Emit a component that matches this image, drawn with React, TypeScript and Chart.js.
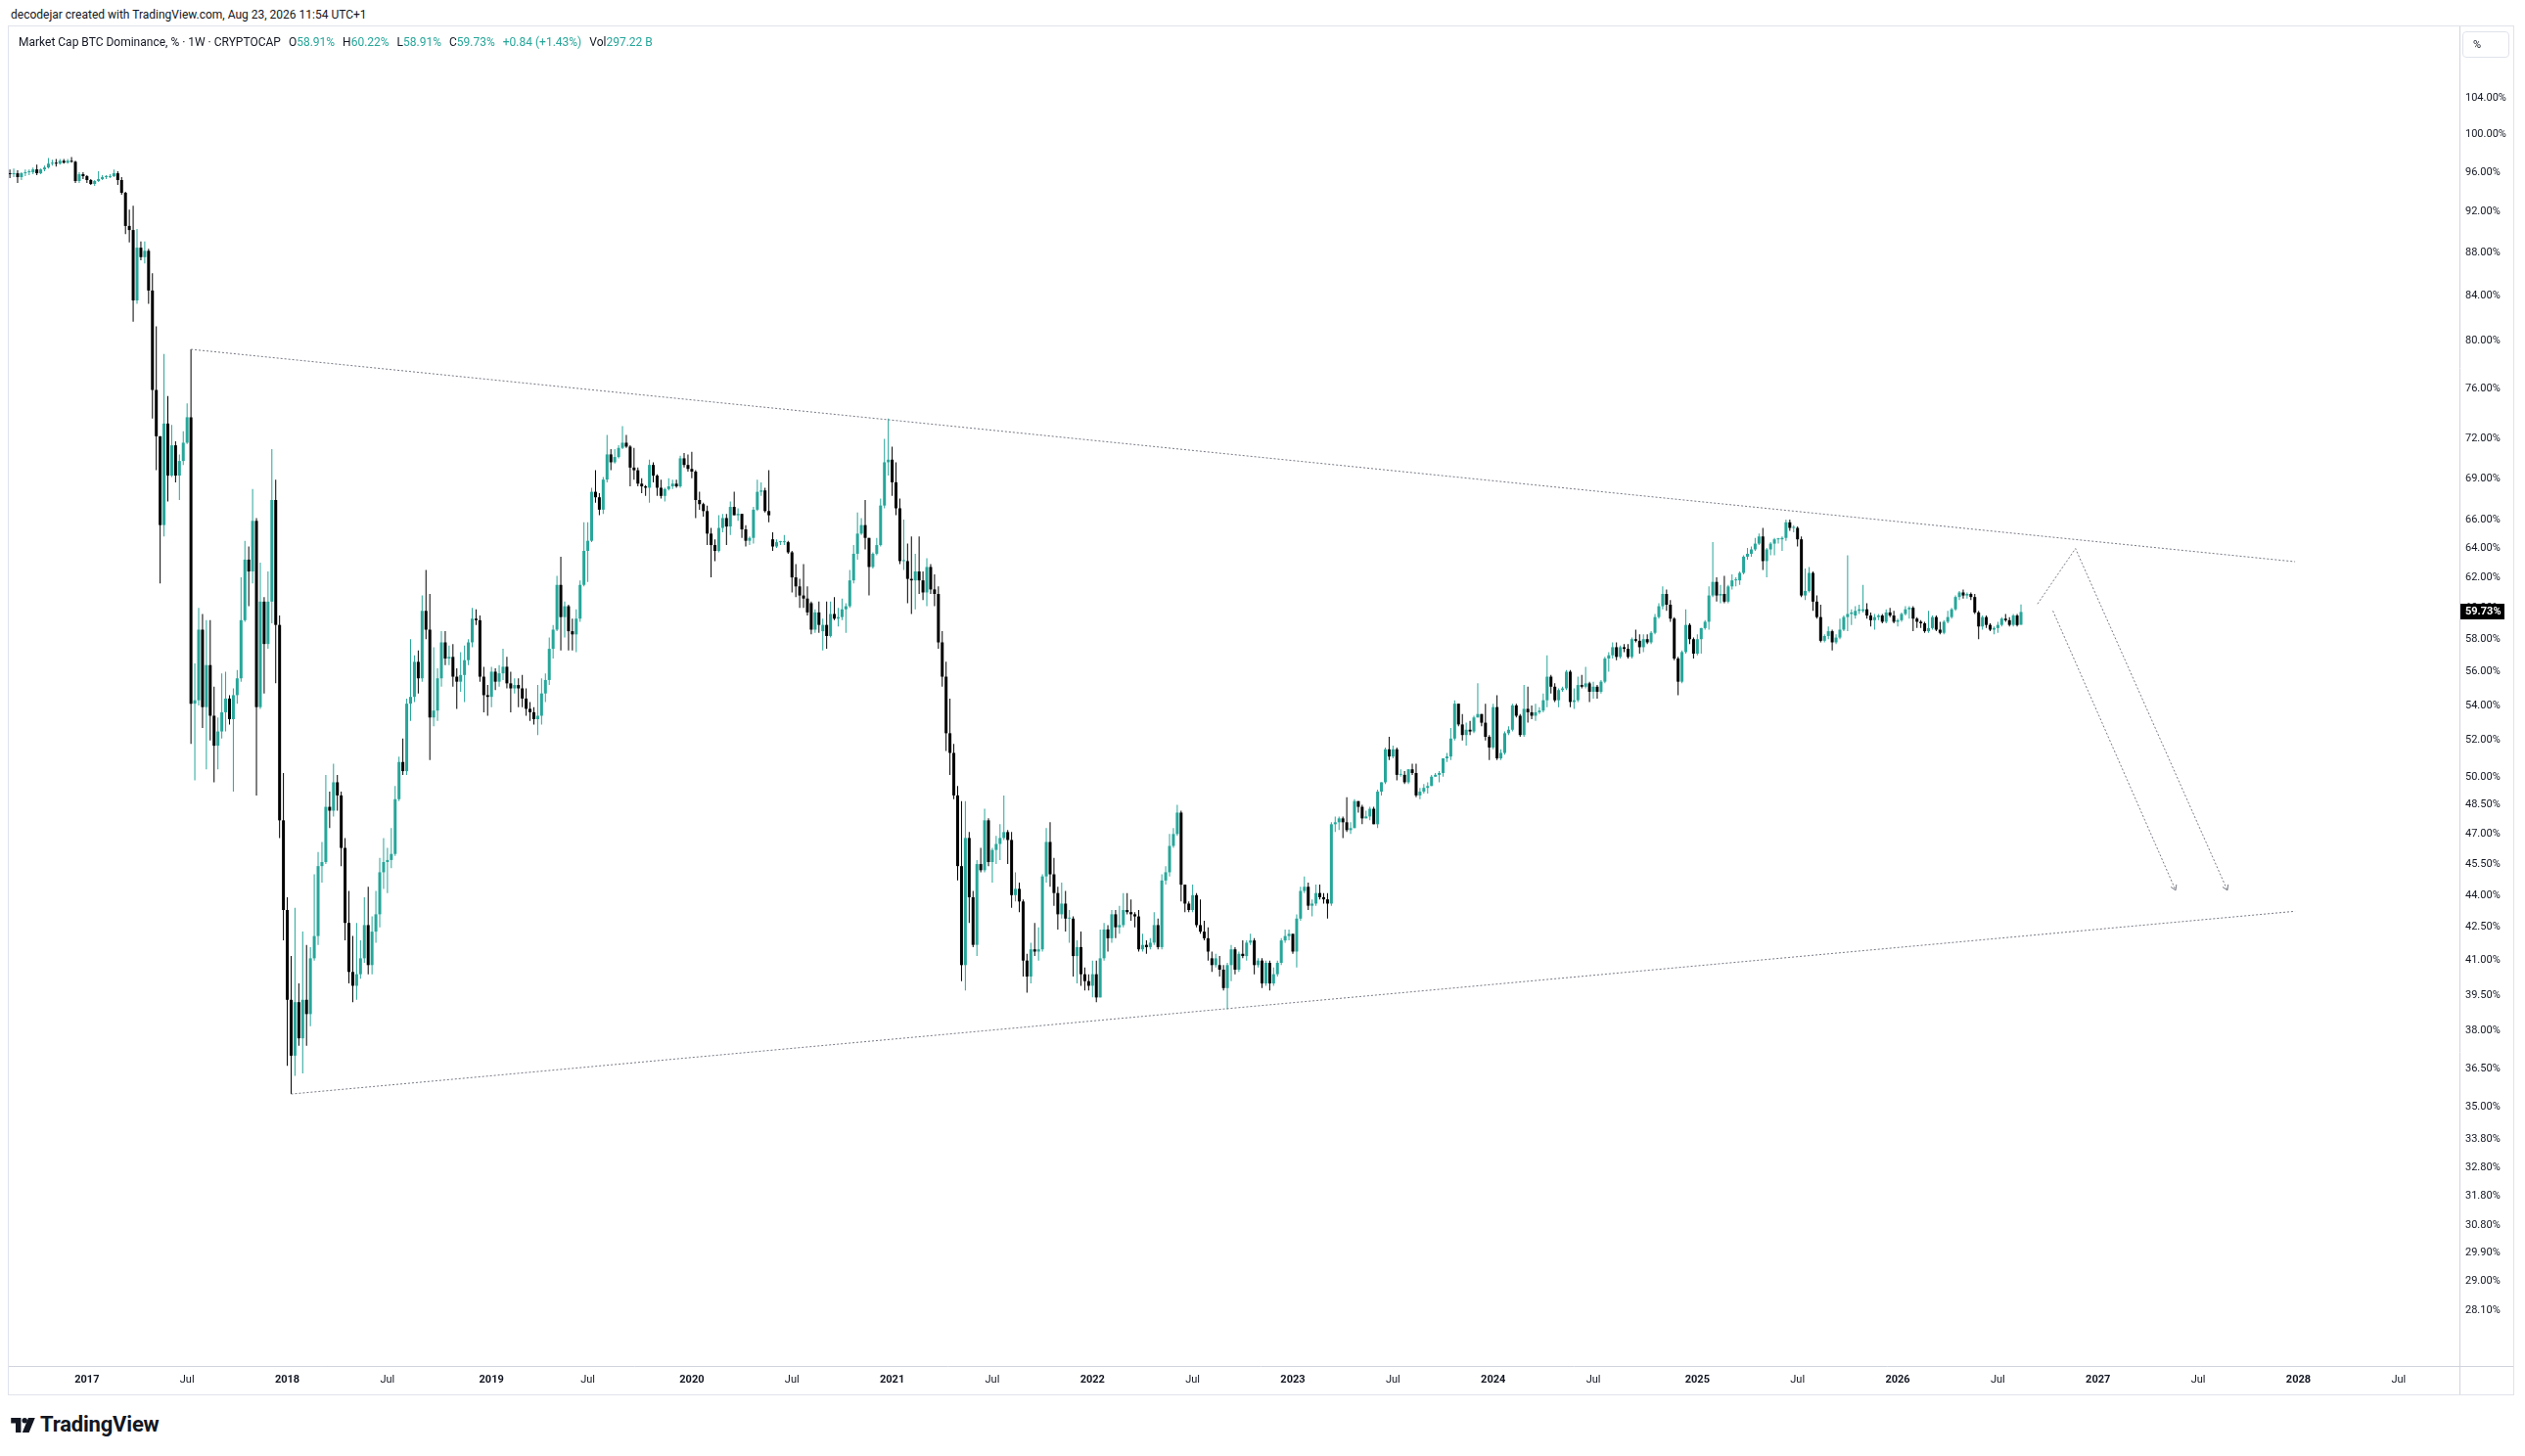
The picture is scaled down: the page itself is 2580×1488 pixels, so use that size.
import React, { useEffect, useRef } from "react";
import { Chart, registerables } from "chart.js";

Chart.register(...registerables);

const FONT = "Roboto, 'Noto Sans', 'DejaVu Sans', sans-serif";
const UP = "#26a69a";
const DOWN = "#000000";
const TEXT = "#131722";
const DRAW = "#787b86";
const SEP = "#d1d4dc";

// Weekly bars, first bar = week of 2016-08-15. Each entry: [open, high, low, close] in %
const FIRST_BAR = "2016-08-15";

const w2016 = [
  [95.9,96.3,95.4,95.8],[95.8,96.4,95.5,95.9],[95.9,96.2,94.9,95.5],[95.5,96.0,95.2,95.9],[95.9,96.3,95.6,96.0],
  [96.0,96.3,95.7,96.0],[96.0,96.5,95.8,96.3],[96.3,96.8,95.7,95.9],[95.9,96.4,95.8,96.3],[96.3,96.7,96.1,96.5],
  [96.5,97.5,96.4,96.9],[96.9,97.3,96.7,97.0],[97.0,97.4,96.6,96.9],[96.9,97.4,96.8,97.2],[97.2,97.4,96.9,97.0],
  [97.0,97.4,96.9,97.2],[97.2,97.6,97.0,97.1],[97.1,97.2,94.9,95.1],[95.1,96.0,94.9,95.8],[95.8,96.0,95.3,95.6],
];
const w2017 = [
  [95.6,95.7,94.9,95.2],[95.2,95.3,94.7,94.8],[94.8,95.2,94.6,95.1],[95.1,96.1,95.0,95.3],[95.3,95.7,95.2,95.5],
  [95.5,95.7,95.3,95.5],[95.5,95.8,95.4,95.6],[95.6,96.3,95.5,95.9],[95.9,96.1,94.7,95.2],[95.2,95.5,93.7,93.9],
  [93.9,94.0,89.8,90.6],[90.6,92.2,89.0,90.2],[90.2,92.6,81.7,83.6],[83.6,90.3,83.3,88.5],[88.5,89.1,87.3,87.6],
  [87.6,89.1,87.0,88.2],[88.2,88.4,83.3,84.5],[84.5,86.1,73.6,75.9],[75.9,81.3,69.6,72.2],[72.2,72.2,61.6,65.6],
  [65.6,78.9,64.8,73.2],[73.2,75.4,67.3,69.2],[69.2,73.1,69.1,71.5],[71.5,71.8,68.7,69.2],[69.2,70.8,67.4,70.3],
  [70.3,72.6,70.0,71.7],[71.7,74.8,71.6,73.7],[73.7,79.3,51.8,54.1],[54.1,56.5,49.8,54.3],[54.3,60.0,54.0,58.6],
  [58.6,59.6,52.7,53.9],[53.9,59.2,50.4,56.4],[56.4,59.2,52.0,53.4],[53.4,55.1,49.7,51.7],[51.7,53.3,50.4,52.5],
  [52.5,55.9,52.1,53.6],[53.6,56.0,52.5,54.4],[54.4,54.6,52.9,53.2],[53.2,55.0,49.2,54.6],[54.6,56.1,54.1,55.6],
  [55.6,62.0,55.4,59.2],[59.2,64.5,59.1,63.2],[63.2,64.1,60.1,62.4],[62.4,68.2,61.6,65.9],[65.9,66.1,49.0,53.9],
  [53.9,63.0,53.8,60.4],[60.4,60.7,54.7,57.7],[57.7,62.4,57.4,60.4],[60.4,71.2,59.0,67.4],[67.4,68.9,55.3,58.9],
  [58.9,59.5,46.8,47.7],[47.7,50.2,41.9,43.3],
];
const w2018 = [
  [43.3,43.9,36.6,39.3],[39.3,41.2,35.5,37.0],[37.0,43.4,36.2,39.2],[39.2,40.0,37.4,37.7],[37.7,42.3,36.3,39.3],
  [39.3,41.7,37.4,38.7],[38.7,41.6,38.2,41.1],[41.1,45.0,41.0,42.1],[42.1,46.1,41.7,45.4],[45.4,46.6,44.6,45.6],
  [45.6,50.1,45.5,48.4],[48.4,49.2,47.3,48.2],[48.2,50.7,47.9,49.7],[49.7,50.1,48.2,49.0],[49.0,49.2,45.4,46.3],
  [46.3,46.8,41.9,42.7],[42.7,44.2,40.0,40.5],[40.5,42.1,39.2,39.9],[39.9,42.7,39.3,40.4],[40.4,41.9,40.2,41.1],
  [41.1,43.9,40.9,42.6],[42.6,44.4,40.4,40.8],[40.8,43.0,40.4,42.3],[42.3,44.2,41.8,43.1],[43.1,45.8,42.5,45.1],
  [45.1,46.8,44.3,45.6],[45.6,46.3,44.1,45.7],[45.7,47.3,45.3,46.0],[46.0,49.5,45.9,48.8],[48.8,51.1,48.7,50.8],
  [50.8,52.1,50.1,50.3],[50.3,54.4,50.1,54.1],[54.1,58.0,53.1,54.5],[54.5,57.0,54.2,56.6],[56.6,57.3,54.7,55.6],
  [55.6,60.8,55.4,59.8],[59.8,62.5,58.0,58.6],[58.6,60.9,50.9,53.3],[53.3,57.5,52.8,53.7],[53.7,56.2,53.1,55.6],
  [55.6,58.5,55.1,57.8],[57.8,58.5,56.4,56.8],[56.8,57.6,56.4,56.9],[56.9,57.7,55.1,55.7],[55.7,56.2,53.8,55.4],
  [55.4,57.2,54.8,55.8],[55.8,57.6,54.2,56.7],[56.7,58.0,56.4,57.8],[57.8,60.0,57.5,59.3],[59.3,59.9,58.9,59.2],
  [59.2,59.5,55.4,55.7],[55.7,56.3,53.6,54.6],[54.6,55.2,53.4,54.5],
];
const w2019 = [
  [54.5,56.3,53.9,56.0],[56.0,56.2,54.9,55.4],[55.4,56.4,55.1,55.9],[55.9,57.4,55.5,56.3],[56.3,56.9,55.0,55.3],
  [55.3,56.0,53.6,55.0],[55.0,55.6,54.7,55.2],[55.2,55.6,53.9,55.0],[55.0,55.8,53.9,54.4],[54.4,55.0,53.4,53.8],
  [53.8,54.2,53.1,53.6],[53.6,53.9,52.9,53.2],[53.2,55.2,52.3,53.4],[53.4,55.6,52.9,54.7],[54.7,55.9,54.2,55.5],
  [55.5,58.1,55.2,57.4],[57.4,58.9,56.8,58.6],[58.6,62.1,58.5,61.5],[61.5,63.4,57.3,59.4],[59.4,60.4,58.1,60.1],
  [60.1,60.2,57.3,58.5],[58.5,59.3,57.3,58.3],[58.3,59.9,57.2,59.3],[59.3,61.8,59.1,61.5],[61.5,65.8,61.4,63.8],
  [63.8,65.8,61.7,64.5],[64.5,68.3,64.4,68.0],[68.0,69.6,67.2,67.6],[67.6,67.9,66.3,66.7],[66.7,69.1,66.4,68.9],
  [68.9,72.3,68.7,70.8],[70.8,71.2,69.6,70.2],[70.2,71.2,70.1,70.6],[70.6,71.5,70.5,71.3],[71.3,73.0,71.2,71.7],
  [71.7,72.3,71.3,71.4],[71.4,71.5,68.4,69.8],[69.8,71.3,68.9,69.6],[69.6,69.8,68.4,68.6],[68.6,69.0,67.9,68.4],
  [68.4,68.5,67.7,68.3],[68.3,70.4,67.2,70.0],[70.0,70.2,68.7,69.2],[69.2,69.3,67.7,68.3],[68.3,68.9,67.5,67.7],
  [67.7,68.3,67.3,68.2],[68.2,69.0,68.1,68.4],[68.4,68.9,68.2,68.6],[68.6,68.9,68.3,68.4],[68.4,70.7,68.3,70.5],
  [70.5,70.9,69.8,70.0],[70.0,70.8,69.5,69.7],
];
const w2020 = [
  [69.7,71.0,69.0,69.5],[69.5,69.6,66.1,67.4],[67.4,68.0,66.7,67.1],[67.1,67.2,66.2,66.6],[66.6,67.0,64.2,65.0],
  [65.0,65.4,62.0,64.2],[64.2,64.6,63.1,63.8],[63.8,66.3,63.7,65.4],[65.4,66.4,65.1,66.1],[66.1,66.4,64.2,65.5],
  [65.5,67.3,64.9,66.9],[66.9,68.0,66.3,66.3],[66.3,66.8,65.9,66.4],[66.4,66.4,64.7,65.3],[65.3,65.6,64.1,64.5],
  [64.5,64.8,64.2,64.7],[64.7,66.9,64.3,66.7],[66.7,68.9,66.6,68.0],[68.0,68.7,67.7,68.1],[68.1,68.3,66.5,66.6],
  [66.6,69.6,65.8,66.3],[64.6,65.1,63.8,64.1],[64.1,64.6,64.0,64.4],[64.4,64.5,64.2,64.4],[64.4,64.9,64.2,64.4],
  [64.4,64.5,63.6,63.7],[63.7,63.8,61.0,62.0],[62.0,62.9,60.7,61.4],[61.4,61.9,60.0,60.8],[60.8,62.9,60.0,60.6],
  [60.6,61.4,59.5,59.7],[60.3,60.4,58.3,58.6],[58.6,59.9,58.4,59.7],[59.7,60.4,58.4,58.9],[58.5,59.3,57.3,58.9],
  [58.9,60.4,57.4,58.2],[58.2,60.4,58.1,59.6],[59.6,60.7,59.2,59.3],[59.3,60.0,58.8,59.4],[59.4,60.6,59.2,59.9],
  [59.9,60.3,58.4,60.1],[60.1,62.5,60.0,61.8],[61.8,64.2,61.6,63.6],[63.6,66.5,63.2,65.0],[65.0,66.1,64.9,65.6],
  [65.6,67.4,63.9,64.7],[64.7,64.7,60.8,62.7],[62.7,63.7,62.6,63.6],[63.6,64.7,63.5,64.2],[64.2,67.5,64.1,67.0],
  [67.0,72.0,66.8,70.2],[70.2,73.6,69.2,70.4],
];
const w2021 = [
  [70.4,71.4,67.7,68.7],[68.7,70.2,66.3,66.8],[66.8,67.5,62.9,63.1],[63.1,66.0,62.5,63.1],[63.1,64.3,60.3,61.9],
  [61.9,64.8,59.6,61.8],[61.8,63.6,59.9,62.4],[62.4,64.8,60.9,61.8],[61.8,62.4,60.5,61.0],[61.0,63.3,60.1,62.7],
  [62.7,62.9,60.9,61.2],[61.2,62.2,60.1,60.9],[60.9,61.4,57.4,57.8],[57.8,58.5,55.1,55.7],[55.7,56.6,51.4,52.4],
  [52.4,54.4,50.1,51.3],[51.3,51.8,48.8,49.0],[49.0,49.5,44.7,45.4],[45.4,48.7,40.1,40.8],[40.8,48.7,39.7,46.8],
  [46.8,47.1,42.7,43.9],[43.9,44.2,41.6,41.7],[41.7,45.7,41.2,45.5],[45.5,46.3,45.1,45.2],[45.2,48.3,45.1,47.7],
  [47.7,47.8,45.4,45.6],[45.6,46.3,44.6,46.2],[46.2,46.9,45.5,46.5],[46.5,47.5,45.7,46.8],[46.8,49.0,46.7,47.1],
  [47.1,47.2,45.5,46.7],[46.7,47.1,43.4,44.0],[44.0,45.1,43.7,44.3],[44.3,44.6,43.2,43.7],[43.7,43.8,40.3,41.0],
  [41.0,41.3,39.6,40.3],[40.3,41.8,40.0,41.5],[41.5,42.7,41.2,41.4],[41.4,42.5,41.0,41.5],[41.5,45.0,41.4,44.9],
  [44.9,47.3,44.6,46.6],[46.6,47.6,44.4,45.0],[45.0,45.8,43.5,44.1],[44.1,44.4,42.4,43.1],[43.1,44.6,42.9,43.6],
  [43.6,44.2,42.3,42.9],[42.9,43.3,41.8,42.9],[42.9,43.0,40.3,41.2],[41.2,41.9,40.0,41.6],[41.6,42.3,39.9,40.4],
  [40.4,40.7,39.7,40.1],[40.1,40.4,39.7,39.9],
];
const w2022 = [
  [39.9,41.0,39.4,40.4],[40.4,41.0,39.2,39.4],[39.4,42.4,39.4,41.1],[41.1,42.7,41.0,42.4],[42.4,42.6,41.4,42.0],
  [42.0,43.3,41.8,43.1],[43.1,43.3,42.0,42.5],[42.5,43.5,42.2,42.6],[42.6,44.1,42.5,43.3],[43.3,44.1,43.1,43.2],
  [43.2,43.8,42.8,43.1],[43.1,43.2,42.5,43.0],[43.0,43.3,41.4,41.5],[41.5,42.2,41.4,41.7],[41.7,41.9,41.3,41.6],
  [41.6,42.0,41.5,41.8],[41.8,43.2,41.7,42.6],[42.6,42.9,41.5,41.6],[41.6,45.0,41.5,44.7],[44.7,45.4,44.5,45.1],
  [45.1,47.0,44.9,46.4],[46.4,47.3,46.3,47.0],[47.0,48.5,46.9,48.1],[48.1,48.2,43.7,44.5],[44.5,44.5,43.2,43.6],
  [43.6,43.7,43.2,43.3],[43.3,44.5,43.2,44.0],[44.0,44.1,42.5,42.6],[42.6,43.8,42.2,42.3],[42.3,42.8,41.9,42.0],
  [42.0,42.5,41.0,41.4],[41.1,41.4,40.5,40.8],[40.8,41.3,40.7,41.1],[40.8,41.2,40.3,40.6],[40.6,40.8,39.7,39.8],
  [39.8,40.9,38.9,40.8],[40.8,41.7,40.1,41.5],[41.5,41.6,40.4,40.6],[40.6,41.4,40.5,41.3],[41.3,41.9,41.1,41.2],
  [41.2,41.9,41.0,41.8],[41.8,42.2,41.7,41.9],[41.9,42.0,40.4,40.8],[40.8,41.1,40.7,41.0],[41.0,41.1,39.8,40.0],
  [40.0,41.0,39.9,40.9],[40.9,41.0,39.7,40.0],[40.0,40.7,39.9,40.4],[40.4,41.0,40.3,40.9],[40.9,42.0,40.8,41.9],
  [41.9,42.4,41.8,42.1],[42.1,42.4,41.9,42.2],
];
const w2023 = [
  [42.2,42.2,41.3,41.4],[41.4,43.1,40.7,42.9],[42.9,44.4,42.8,44.2],[44.2,44.9,44.1,44.4],[44.4,44.6,43.3,43.5],
  [43.5,43.8,43.0,43.6],[43.6,44.5,43.5,44.1],[44.1,44.5,43.8,43.9],[43.9,44.1,43.6,43.8],[43.8,44.1,42.9,43.6],
  [43.6,47.6,43.5,47.5],[47.5,47.9,47.1,47.6],[47.6,47.9,47.2,47.8],[47.8,47.9,46.8,47.6],[47.6,48.9,47.1,47.2],
  [47.2,47.6,47.0,47.3],[47.3,48.8,47.3,48.7],[48.7,48.7,48.1,48.4],[48.4,48.5,47.5,47.8],[47.8,48.2,47.8,47.9],
  [47.9,48.4,47.7,48.3],[48.3,48.4,47.5,47.5],[47.5,49.3,47.3,49.2],[49.2,49.7,49.0,49.7],[49.7,51.6,49.6,51.5],
  [51.5,52.2,50.9,51.1],[51.1,51.7,51.0,51.5],[51.5,51.6,49.8,50.1],[50.1,50.4,50.0,50.1],[50.1,50.3,49.6,49.7],
  [49.7,50.4,49.6,50.4],[50.4,50.7,50.1,50.2],[50.2,50.7,48.9,49.0],[49.0,49.4,48.8,49.2],[49.2,49.6,49.1,49.4],
  [49.4,49.7,49.1,49.5],[49.5,50.1,49.5,50.0],[50.0,50.2,50.0,50.1],[50.1,50.3,49.7,50.2],[50.2,51.0,50.0,51.0],
  [51.0,51.3,50.8,51.1],[51.1,52.7,50.9,52.1],[52.1,54.3,52.0,54.1],[54.1,54.1,52.8,52.9],[52.9,53.5,52.0,52.3],
  [52.3,53.0,51.7,52.6],[52.6,53.1,52.3,52.5],[52.5,53.4,52.4,53.3],[53.3,55.3,53.3,53.5],[53.5,53.5,52.8,53.0],
  [53.0,54.1,52.0,52.2],[52.2,52.3,50.9,51.6],
];
const w2024 = [
  [51.6,54.1,51.5,53.9],[53.9,54.6,50.9,51.0],[51.0,51.5,50.9,51.3],[51.3,52.5,51.2,52.4],[52.4,52.8,52.3,52.6],
  [52.6,54.1,52.5,54.0],[54.0,54.1,53.3,53.4],[53.4,53.5,52.2,52.3],[52.3,55.2,52.2,53.8],[53.8,55.1,53.0,53.6],
  [53.6,54.0,53.2,53.4],[53.4,54.1,53.1,53.6],[53.6,53.9,53.5,53.7],[53.7,54.7,53.6,54.3],[54.3,57.0,53.9,55.7],
  [55.7,55.8,54.7,55.1],[55.1,55.3,54.2,54.3],[54.3,55.0,53.9,54.9],[54.9,55.1,54.8,55.0],[55.0,56.1,54.9,56.0],
  [56.0,56.1,53.9,54.2],[54.2,55.0,53.8,54.3],[54.3,55.7,54.2,55.2],[55.2,55.8,55.0,55.1],[55.1,56.3,55.0,55.3],
  [55.3,55.4,54.2,54.8],[54.8,55.4,54.4,55.1],[55.1,55.2,54.4,54.8],[54.8,55.5,54.7,55.4],[55.4,56.9,55.3,56.8],
  [56.8,57.2,56.0,57.0],[57.0,57.8,56.8,57.5],[57.5,57.8,56.7,56.9],[56.9,57.6,56.8,57.5],[57.5,57.7,57.2,57.4],
  [57.4,57.7,56.8,56.9],[56.9,58.1,56.8,58.0],[58.0,58.6,57.8,57.9],[57.9,58.3,57.1,57.5],[57.5,58.3,57.2,58.0],
  [58.0,58.3,57.7,57.8],[57.8,58.5,57.7,58.4],[58.4,59.6,58.3,59.4],[59.4,60.3,59.3,60.1],[60.1,61.4,59.9,60.9],
  [60.9,61.2,59.8,60.2],[60.2,60.5,59.1,59.3],[59.3,59.4,56.7,56.8],[56.8,56.9,54.6,55.4],[55.4,57.3,55.3,57.2],
  [57.2,59.9,57.1,58.9],[58.9,59.0,57.7,58.0],[58.0,58.1,56.8,57.1],
];
const w2025 = [
  [57.1,58.3,57.0,58.0],[58.0,58.7,57.1,58.7],[58.7,59.2,58.6,59.1],[59.1,61.4,58.6,60.8],[60.8,64.4,60.7,61.7],
  [61.7,62.0,60.4,60.8],[60.8,61.5,60.3,60.9],[60.9,62.1,60.3,60.4],[60.4,61.5,60.3,61.4],[61.4,62.2,61.2,61.8],
  [61.8,62.0,61.4,61.8],[61.8,62.4,61.5,62.3],[62.3,63.5,62.2,63.4],[63.4,64.0,63.2,63.6],[63.6,64.1,63.4,63.9],
  [63.9,64.7,63.8,64.3],[64.3,65.0,64.2,64.8],[64.8,65.4,62.5,63.1],[63.1,64.0,62.0,63.9],[63.9,64.4,63.5,64.3],
  [64.3,64.7,63.5,64.6],[64.6,64.7,64.3,64.6],[64.6,64.8,63.8,64.7],[64.7,66.0,64.5,65.8],[65.8,66.0,65.2,65.4],
  [65.4,65.6,65.1,65.4],[65.4,65.5,64.1,64.6],[64.6,64.8,60.7,60.8],[60.8,62.6,60.5,61.1],[61.1,62.7,61.0,62.3],
  [62.3,62.4,59.8,60.4],[60.4,60.8,59.3,59.4],[59.4,60.2,57.8,57.9],[57.9,58.3,57.8,58.2],[58.2,58.8,58.0,58.5],
  [58.5,58.6,57.3,57.8],[57.8,58.3,57.7,58.1],[58.1,59.3,58.0,58.6],[58.6,59.5,58.5,59.4],[59.4,63.5,58.5,59.6],
  [59.6,59.9,58.9,59.7],[59.5,60.1,59.3,59.8],[59.8,60.2,59.6,59.9],[59.8,61.5,59.7,59.9],[59.9,60.3,59.3,59.5],
  [59.5,59.7,58.8,59.2],[59.2,59.6,58.6,59.4],[59.4,59.6,59.2,59.5],[59.5,59.6,59.0,59.1],[59.1,59.9,59.0,59.7],
  [59.7,60.0,59.4,59.5],[59.5,59.8,59.0,59.1],
];
const w2026 = [
  [59.1,59.3,58.8,59.2],[59.2,59.7,59.1,59.6],[59.6,60.1,59.5,59.9],[59.9,60.1,59.3,60.0],[60.0,60.1,58.5,59.3],
  [59.3,59.4,58.7,59.1],[59.1,59.2,58.7,59.0],[59.0,59.1,58.4,58.5],[58.5,59.8,58.4,58.7],[58.7,59.5,58.6,59.4],
  [59.4,59.5,58.5,58.6],[58.6,59.1,58.3,58.4],[58.4,59.2,58.3,59.1],[59.1,59.8,59.0,59.4],[59.4,60.0,59.3,59.9],
  [59.9,60.8,59.8,60.7],[60.7,61.1,60.5,61.0],[61.0,61.2,60.6,60.8],[60.8,61.0,60.6,60.9],[60.9,61.0,60.5,60.7],
  [60.7,60.9,59.6,59.7],[59.7,59.8,58.0,58.8],[58.8,59.5,58.6,59.4],[59.4,59.5,58.7,58.9],[58.9,59.0,58.5,58.6],
  [58.6,58.8,58.3,58.7],[58.7,59.1,58.4,58.9],[58.9,59.4,58.8,59.3],[59.3,59.6,59.1,59.2],[59.2,59.4,58.8,58.9],
  [58.9,59.6,58.8,59.5],[59.5,59.6,58.8,58.89],[58.91,60.22,58.91,59.73],
];

const lastVolume = "297.22 B";
const legendTitle = "Market Cap BTC Dominance, % \u00b7 1W \u00b7 CRYPTOCAP";
const headerText = "decodejar created with TradingView.com, Aug 23, 2026 11:54 UTC+1";

// Price-axis tick labels (percent)
const priceTicks = [104, 100, 96, 92, 88, 84, 80, 76, 72, 69, 66, 64, 62, 60, 58, 56, 54, 52, 50, 48.5, 47, 45.5, 44, 42.5, 41, 39.5, 38, 36.5, 35, 33.8, 32.8, 31.8, 30.8, 29.9, 29, 28.1];

// Time-axis tick labels and the bar date each one sits on
const timeTickLabels = ["2017","Jul","2018","Jul","2019","Jul","2020","Jul","2021","Jul","2022","Jul","2023","Jul","2024","Jul","2025","Jul","2026","Jul","2027","Jul","2028","Jul"];
const timeTickDates = ["2017-01-02","2017-07-03","2018-01-01","2018-07-02","2019-01-07","2019-07-01","2020-01-06","2020-07-06","2021-01-04","2021-07-05","2022-01-03","2022-07-04","2023-01-02","2023-07-03","2024-01-01","2024-07-01","2025-01-06","2025-07-07","2026-01-05","2026-07-06","2027-01-04","2027-07-05","2028-01-03","2028-07-03"];

// Drawings (date, value %)
const upperTrend: [string, number][] = [["2017-07-10", 79.3], ["2027-12-28", 63.06]];
const lowerTrend: [string, number][] = [["2018-01-08", 35.5], ["2027-12-28", 43.24]];
const arrowPathA: [string, number][] = [["2026-09-16", 60.25], ["2026-11-24", 63.96], ["2027-08-27", 44.23]];
const arrowPathB: [string, number][] = [["2026-10-14", 59.8], ["2027-05-25", 44.23]];

// visible range
const X_MIN = -0.28, X_MAX = 635.8;
const Y_MIN = 26.47, Y_MAX = 112.37;

function weekIndex(date: string): number {
  const [y, m, d] = date.split("-").map(Number);
  const [y0, m0, d0] = FIRST_BAR.split("-").map(Number);
  return (Date.UTC(y, m - 1, d) - Date.UTC(y0, m0 - 1, d0)) / (7 * 86400000);
}

const bars = [...w2016, ...w2017, ...w2018, ...w2019, ...w2020, ...w2021, ...w2022, ...w2023, ...w2024, ...w2025, ...w2026]
  .map(([o, h, l, c], i) => ({ i, o, h, l, c }));

const PANEL_LEFT = 9, PANEL_TOP = 27, PANEL_W = 2559, PANEL_H = 1398;
const PRICE_AXIS_W = 55, TIME_AXIS_H = 29;

const tvPlugin = {
  id: "tvDecor",
  beforeDraw(chart: any) {
    const { ctx, width, height } = chart;
    ctx.save();
    ctx.fillStyle = "#ffffff";
    ctx.fillRect(0, 0, width, height);
    ctx.restore();
  },
  afterDatasetsDraw(chart: any) {
    const { ctx } = chart;
    chart.data.datasets.forEach((ds: any, di: number) => {
      if (!ds.arrowHead) return;
      const pts = chart.getDatasetMeta(di).data;
      if (pts.length < 2) return;
      const a = pts[pts.length - 2], b = pts[pts.length - 1];
      const ang = Math.atan2(b.y - a.y, b.x - a.x);
      const len = 6;
      ctx.save();
      ctx.strokeStyle = DRAW;
      ctx.lineWidth = 1;
      ctx.beginPath();
      ctx.moveTo(b.x - len * Math.cos(ang - 0.55), b.y - len * Math.sin(ang - 0.55));
      ctx.lineTo(b.x, b.y);
      ctx.lineTo(b.x - len * Math.cos(ang + 0.55), b.y - len * Math.sin(ang + 0.55));
      ctx.stroke();
      ctx.restore();
    });
  },
  afterDraw(chart: any) {
    const { ctx, chartArea, width, height } = chart;
    ctx.save();
    ctx.strokeStyle = SEP;
    ctx.lineWidth = 1;
    ctx.beginPath();
    const sx = Math.round(chartArea.right) + 0.5;
    ctx.moveTo(sx, 0);
    ctx.lineTo(sx, height);
    const sy = Math.round(chartArea.bottom) + 0.5;
    ctx.moveTo(0, sy);
    ctx.lineTo(width, sy);
    ctx.stroke();
    const last = bars[bars.length - 1];
    const py = chart.scales.y.getPixelForValue(last.c);
    ctx.fillStyle = "#000000";
    ctx.fillRect(Math.round(chartArea.right) + 1, Math.round(py) - 8, 45, 16);
    ctx.fillStyle = "#ffffff";
    ctx.font = `bold 11px ${FONT}`;
    ctx.textBaseline = "middle";
    ctx.textAlign = "left";
    ctx.fillText(last.c.toFixed(2) + "%", Math.round(chartArea.right) + 6, Math.round(py) + 0.5);
    ctx.restore();
  },
};

function lineDs(points: [string, number][], arrow: boolean) {
  return {
    type: "line",
    data: points.map(([d, v]) => ({ x: weekIndex(d), y: v })),
    borderColor: DRAW,
    borderWidth: 1,
    borderDash: [2, 2],
    pointRadius: 0,
    tension: 0,
    fill: false,
    order: 0,
    arrowHead: arrow,
  };
}

export default function App() {
  const ref = useRef<HTMLCanvasElement>(null);

  useEffect(() => {
    const canvas = ref.current;
    if (!canvas) return;
    const colors = bars.map((b) => (b.c >= b.o ? UP : DOWN));
    const tickIdx = timeTickDates.map(weekIndex);
    const chart = new Chart(canvas, {
      type: "bar",
      data: {
        datasets: [
          {
            type: "bar",
            label: "wick",
            data: bars.map((b) => ({ x: b.i, y: [b.l, b.h] })),
            backgroundColor: colors,
            borderWidth: 0,
            grouped: false,
            maxBarThickness: 1,
            barPercentage: 1,
            categoryPercentage: 1,
            inflateAmount: 0,
            order: 2,
          },
          {
            type: "bar",
            label: "body",
            data: bars.map((b) => ({ x: b.i, y: [b.o, b.c] })),
            backgroundColor: colors,
            borderWidth: 0,
            grouped: false,
            maxBarThickness: 3,
            barPercentage: 1,
            categoryPercentage: 1,
            minBarLength: 1,
            inflateAmount: 0,
            order: 1,
          },
          lineDs(upperTrend, false),
          lineDs(lowerTrend, false),
          lineDs(arrowPathA, true),
          lineDs(arrowPathB, true),
        ] as any,
      },
      options: {
        animation: false,
        responsive: false,
        maintainAspectRatio: false,
        devicePixelRatio: 1,
        events: [],
        layout: { padding: 0 },
        plugins: { legend: { display: false }, tooltip: { enabled: false } },
        scales: {
          x: {
            type: "linear",
            min: X_MIN,
            max: X_MAX,
            bounds: "data",
            offset: false,
            grid: { display: false, drawTicks: false },
            border: { display: false },
            afterFit: (s: any) => { s.height = TIME_AXIS_H; s.paddingLeft = 0; s.paddingRight = 0; },
            afterBuildTicks: (s: any) => { s.ticks = tickIdx.map((v) => ({ value: v })); },
            ticks: {
              autoSkip: false,
              maxRotation: 0,
              minRotation: 0,
              padding: 8,
              color: TEXT,
              font: (ctx: any) => ({
                family: FONT,
                size: 11,
                weight: (timeTickLabels[ctx.index] || "").length === 4 ? "bold" : "normal",
              }),
              callback: (_v: any, i: number) => timeTickLabels[i],
            },
          },
          y: {
            type: "logarithmic",
            position: "right",
            min: Y_MIN,
            max: Y_MAX,
            bounds: "data",
            grid: { display: false, drawTicks: false },
            border: { display: false },
            afterFit: (s: any) => { s.width = PRICE_AXIS_W; s.paddingTop = 0; s.paddingBottom = 0; },
            afterBuildTicks: (s: any) => { s.ticks = priceTicks.map((v) => ({ value: v })); },
            ticks: {
              autoSkip: false,
              padding: 6,
              color: TEXT,
              font: { family: FONT, size: 11 },
              callback: (v: any) => Number(v).toFixed(2) + "%",
            },
          },
        },
      } as any,
      plugins: [tvPlugin],
    });
    return () => chart.destroy();
  }, []);

  const last = bars[bars.length - 1];
  const prev = bars[bars.length - 2];
  const chg = last.c - prev.c;
  const chgPct = (chg / prev.c) * 100;
  const sign = chg >= 0 ? "+" : "";
  const val = { color: UP };

  return (
    <div style={{ position: "absolute", left: 0, top: 0, width: 2580, height: 1488, background: "#ffffff", overflow: "hidden", fontFamily: FONT, color: TEXT }}>
      <div style={{ position: "absolute", left: 11, top: 8, fontSize: 12, lineHeight: "15px", whiteSpace: "nowrap" }}>{headerText}</div>
      <div style={{ position: "absolute", left: PANEL_LEFT - 1, top: PANEL_TOP - 1, width: PANEL_W, height: PANEL_H, border: "1px solid #e0e3eb" }} />
      <canvas
        ref={ref}
        width={PANEL_W}
        height={PANEL_H}
        style={{ position: "absolute", left: PANEL_LEFT, top: PANEL_TOP, width: PANEL_W, height: PANEL_H }}
      />
      <div style={{ position: "absolute", left: 19, top: 35, fontSize: 12, lineHeight: "16px", whiteSpace: "nowrap" }}>
        <span>{legendTitle}</span>
        <span style={{ marginLeft: 8 }}>O<span style={val}>{last.o.toFixed(2)}%</span></span>
        <span style={{ marginLeft: 8 }}>H<span style={val}>{last.h.toFixed(2)}%</span></span>
        <span style={{ marginLeft: 8 }}>L<span style={val}>{last.l.toFixed(2)}%</span></span>
        <span style={{ marginLeft: 8 }}>C<span style={val}>{last.c.toFixed(2)}%</span></span>
        <span style={{ marginLeft: 8, color: UP }}>{sign}{chg.toFixed(2)} ({sign}{chgPct.toFixed(2)}%)</span>
        <span style={{ marginLeft: 8 }}>Vol<span style={val}>{lastVolume}</span></span>
      </div>
      <div style={{ position: "absolute", left: 2516, top: 32, width: 46, height: 25, border: "1px solid #e0e3eb", borderRadius: 4, fontSize: 11, lineHeight: "25px", boxSizing: "content-box" }}>
        <span style={{ marginLeft: 10 }}>%</span>
      </div>
      <div style={{ position: "absolute", left: 11, top: 1445, height: 22, display: "flex", alignItems: "center" }}>
        <svg width="25" height="15" viewBox="0 0 36 22" style={{ display: "block" }}>
          <path d="M0 0 H15 V22 H7 V8 H0 Z" fill="#131722" />
          <circle cx="20.5" cy="4" r="4" fill="#131722" />
          <path d="M26 0 H36 L27 22 H17 Z" fill="#131722" />
        </svg>
        <span style={{ marginLeft: 5, fontSize: 22, fontWeight: "bold", letterSpacing: "-0.2px", lineHeight: "22px" }}>TradingView</span>
      </div>
    </div>
  );
}
